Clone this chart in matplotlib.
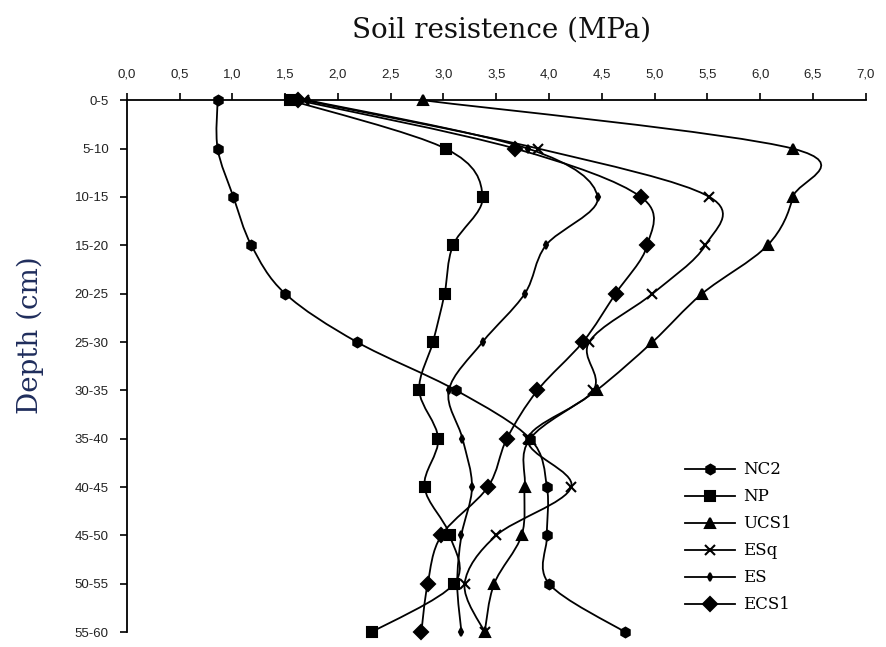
import numpy as np
import matplotlib
matplotlib.use("Agg")
import matplotlib.pyplot as plt
from matplotlib.path import Path
from matplotlib.patches import PathPatch
from matplotlib.lines import Line2D

# Depth classes (cm)
depths = ["0-5", "5-10", "10-15", "15-20", "20-25", "25-30",
          "30-35", "35-40", "40-45", "45-50", "50-55", "55-60"]

# Soil resistance (MPa) per treatment
NC2 = [0.86, 0.86, 1.01, 1.18, 1.50, 2.18, 3.12, 3.82, 3.98, 3.98, 4.00, 4.72]
NP = [1.55, 3.02, 3.37, 3.09, 3.01, 2.90, 2.77, 2.95, 2.82, 3.06, 3.10, 2.32]
UCS1 = [2.81, 6.31, 6.31, 6.07, 5.45, 4.98, 4.45, 3.82, 3.77, 3.74, 3.48, 3.39]
ESq = [1.68, 3.90, 5.52, 5.48, 4.98, 4.38, 4.42, 3.80, 4.21, 3.50, 3.20, 3.39]
ES = [1.72, 3.80, 4.46, 3.97, 3.77, 3.37, 3.05, 3.18, 3.27, 3.17, 3.13, 3.17]
ECS1 = [1.62, 3.68, 4.87, 4.93, 4.63, 4.32, 3.89, 3.60, 3.42, 2.98, 2.85, 2.79]

series = [("NC2", NC2, "h", 7), ("NP", NP, "s", 7), ("UCS1", UCS1, "^", 7),
          ("ESq", ESq, "x", 7), ("ES", ES, "d", 4), ("ECS1", ECS1, "D", 7)]

xticks = np.arange(0, 7.01, 0.5)


# smoothed line like the spreadsheet's "smoothed line" option
def smooth_path(xs, ys):
    n = len(xs)
    verts = [(xs[0], ys[0])]
    codes = [Path.MOVETO]
    for i in range(n - 1):
        a = max(i - 1, 0)
        d = min(i + 2, n - 1)
        c1 = (xs[i] + (xs[i + 1] - xs[a]) / 6, ys[i] + (ys[i + 1] - ys[a]) / 6)
        c2 = (xs[i + 1] - (xs[d] - xs[i]) / 6, ys[i + 1] - (ys[d] - ys[i]) / 6)
        verts += [c1, c2, (xs[i + 1], ys[i + 1])]
        codes += [Path.CURVE4] * 3
    return Path(verts, codes)


fig = plt.figure(figsize=(8.87, 6.47), dpi=100)
ax = fig.add_axes([0.143, 0.023, 0.833, 0.822])

ypos = np.arange(len(depths))
handles = []
for name, vals, m, ms in series:
    ax.add_patch(PathPatch(smooth_path(vals, ypos), fill=False, lw=1.3,
                           color="black", clip_on=False))
    ax.plot(vals, ypos, ls="none", marker=m, ms=ms, color="black",
            mew=1.5, clip_on=False)
    handles.append(Line2D([], [], color="black", lw=1.3, marker=m, ms=ms,
                          mew=1.5, label=name))

ax.set_xlim(0, 7)
ax.set_ylim(len(depths) - 1, 0)
ax.xaxis.tick_top()
ax.set_xticks(xticks)
ax.set_xticklabels([f"{v:.1f}".replace(".", ",") for v in xticks],
                   fontsize=9.5, family="Liberation Sans", color="#222222")
ax.set_yticks(ypos)
ax.set_yticklabels(depths, fontsize=9.5, family="Liberation Sans", color="#222222")
ax.tick_params(direction="out", length=5, width=1.2)
ax.tick_params(axis="x", pad=9)
ax.tick_params(axis="y", pad=8)
for s in ["bottom", "right"]:
    ax.spines[s].set_visible(False)
for s in ["top", "left"]:
    ax.spines[s].set_linewidth(1.3)

fig.text(0.565, 0.954, "Soil resistence (MPa)", ha="center", va="center",
         fontsize=20, family="DejaVu Serif", color="#111111")
fig.text(0.034, 0.482, "Depth (cm)", ha="center", va="center", rotation=90,
         fontsize=20, family="DejaVu Serif", color="#1f2d5c")

fig.legend(handles=handles, loc="upper left", bbox_to_anchor=(0.755, 0.31),
           frameon=False, prop={"family": "DejaVu Serif", "size": 12},
           handlelength=3, labelspacing=0.6, handletextpad=0.5)

fig.savefig("out.png", dpi=100)
